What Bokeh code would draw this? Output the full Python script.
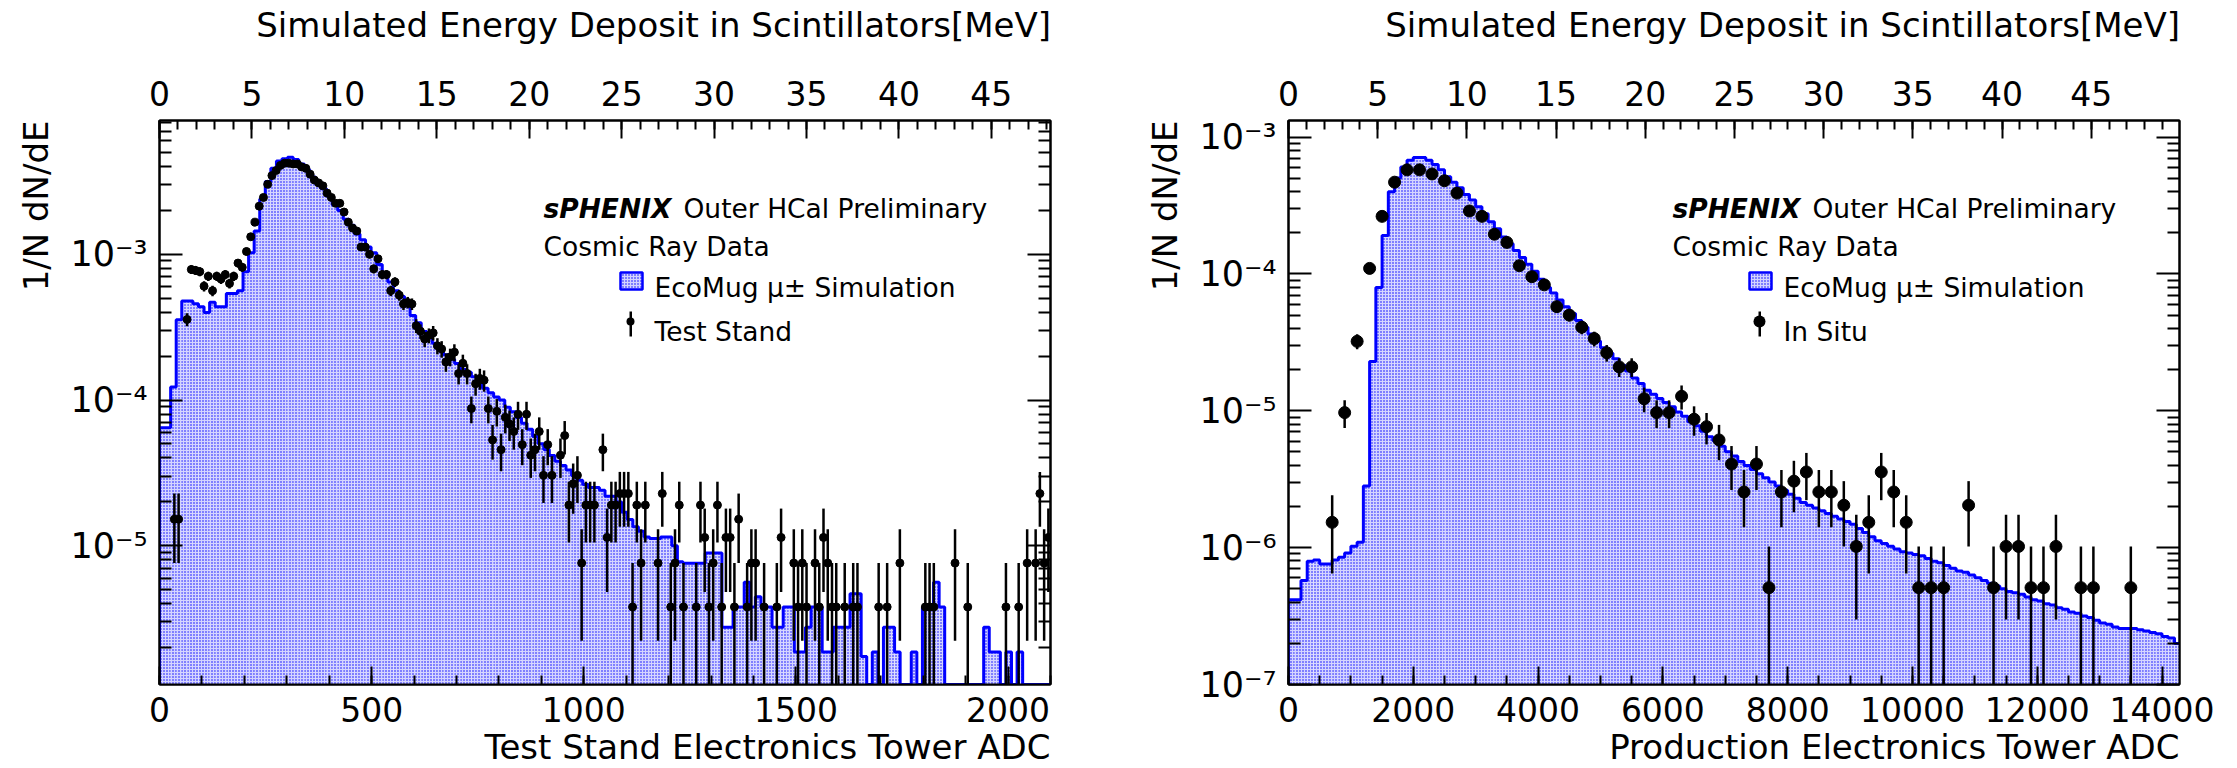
import math
from bokeh.plotting import figure
from bokeh.layouts import row
from bokeh.models import (Range1d, LinearAxis, LogAxis, FixedTicker, SingleIntervalTicker,
                          CustomJSTickFormatter, Label, BoxAnnotation, Title)
from bokeh.embed import file_html
from bokeh.resources import INLINE

FONT = "DejaVu Sans"
BLUE = "#0000ff"
TOP_TITLE = "Simulated Energy Deposit in Scintillators[MeV]"
Y_TITLE = "1/N dN/dE"

# ---------------- left panel: test stand electronics ----------------
TS_X_RANGE = (0, 2100)
TS_MEV_RANGE = (0, 48.2)
TS_Y_RANGE = (1.116e-6, 8.28e-3)
TS_SIM_BIN = 2100 / 160
# log10 of simulated 1/N dN/dE per bin (None = empty bin)
TS_SIM_LOG10 = [-4.19, -4.19, -3.91, -3.45, -3.32, -3.32, -3.34, -3.36, -3.40, -3.33,
                -3.36, -3.36, -3.27, -3.27, -3.25, -3.12, -2.99, -2.84, -2.62, -2.50,
                -2.41, -2.36, -2.345, -2.335, -2.35, -2.38, -2.42, -2.47, -2.51, -2.55,
                -2.60, -2.66, -2.70, -2.76, -2.80, -2.86, -2.90, -2.95, -2.99, -3.07,
                -3.14, -3.19, -3.25, -3.29, -3.33, -3.42, -3.47, -3.53, -3.57, -3.61,
                -3.66, -3.69, -3.72, -3.75, -3.79, -3.81, -3.84, -3.87, -3.92, -3.95,
                -3.98, -4.00, -4.05, -4.08, -4.12, -4.16, -4.20, -4.25, -4.30, -4.34,
                -4.38, -4.42, -4.45, -4.48, -4.52, -4.55, -4.58, -4.60, -4.60, -4.62,
                -4.66, -4.66, -4.70, -4.77, -4.82, -4.87, -4.90, -4.94, -4.95, -4.95,
                -4.94, -4.94, -5.00, -5.11, -5.12, -5.12, -5.12, -5.12, -5.05, -5.05,
                -5.05, -5.56, -5.56, -5.42, -5.42, -5.25, -5.42, -5.35, -5.42, -5.42,
                -5.56, -5.56, -5.42, -5.42, -5.73, -5.73, -5.56, -5.42, -5.42, -5.73,
                -5.73, -5.56, -5.56, -5.56, -5.33, -5.33, -5.76, None, -5.73, None,
                -5.56, -5.56, -5.73, None, None, -5.73, None, -5.42, -5.42, -5.25,
                -5.42, None, None, None, None, None, None, None, -5.56, -5.73,
                -5.73, None, -5.73, None, -5.73, None, None, None, None, None]
TS_ADC = [35, 45, 65, 75, 85, 95, 105, 115, 125, 135, 145, 155, 165, 175, 185, 195, 205, 215,
          225, 235, 245, 255, 265, 275, 285, 295, 305, 315, 325, 335, 345, 355, 365, 375, 385,
          395, 405, 415, 425, 435, 445, 455, 465, 475, 485, 495, 505, 515, 525, 535, 545, 555,
          565, 575, 585, 595, 605, 615, 625, 635, 645, 655, 665, 675, 685, 695, 705, 715, 725,
          735, 745, 755, 765, 775, 785, 795, 805, 815, 825, 835, 845, 855, 865, 875, 885, 895,
          905, 915, 925, 945, 955, 965, 975, 985, 995, 1005, 1015, 1025, 1045, 1055, 1065,
          1075, 1085, 1095, 1105, 1115, 1125, 1135, 1145, 1175, 1185, 1205, 1215, 1225, 1235,
          1265, 1275, 1285, 1295, 1305, 1315, 1325, 1335, 1345, 1355, 1365, 1385, 1395, 1405,
          1425, 1455, 1465, 1495, 1505, 1515, 1525, 1545, 1555, 1565, 1575, 1585, 1595, 1615,
          1635, 1645, 1695, 1715, 1745, 1805, 1815, 1825, 1875, 1905, 1995, 2025, 2045, 2065,
          2075, 2085, 2095]
TS_COUNTS = [4, 4, 94, 207, 204, 200, 159, 186, 148, 186, 178, 191, 166, 186, 229, 214, 275, 347,
             437, 563, 646, 795, 912, 989, 1072, 1110, 1110, 1097, 1097, 1047, 1023, 933, 851, 813, 776,
             692, 646, 589, 589, 513, 437, 398, 380, 295, 295, 263, 209, 245, 191, 191, 148, 170,
             138, 120, 123, 120, 85, 78, 69, 73, 76, 62, 59, 48, 52, 56, 40, 47, 40,
             23, 34, 37, 36, 23, 14, 22, 12, 20, 18, 16, 21, 13, 21, 11, 12, 16,
             8, 13, 8, 11, 15, 5, 7, 8, 2, 5, 5, 5, 12, 3, 5,
             5, 6, 6, 6, 1, 5, 2, 5, 2, 6, 1, 2, 5, 1,
             1, 5, 3, 1, 2, 5, 1, 3, 3, 1, 4, 1, 2, 2,
             1, 1, 3, 2, 1, 2, 1, 2, 1, 3, 2, 1, 1, 1,
             1, 1, 1, 1, 2, 1, 1, 1, 2, 1, 1, 1, 2, 2,
             6, 2, 3]
TS_UNIT = 3.8e-6

# ---------------- right panel: production electronics (in situ) ----------------
IS_X_RANGE = (0, 14280)
IS_MEV_RANGE = (0, 49.95)
IS_Y_RANGE = (1e-7, 1.32e-3)
IS_SIM_BIN = 100
IS_SIM_LOG10 = [-6.38, -6.38, -6.24, -6.10, -6.09, -6.12, -6.12, -6.09, -6.07, -6.04,
                -5.99, -5.96, -5.55, -4.64, -4.10, -3.72, -3.40, -3.30, -3.22, -3.17,
                -3.15, -3.15, -3.17, -3.20, -3.24, -3.29, -3.33, -3.37, -3.42, -3.46,
                -3.51, -3.56, -3.62, -3.67, -3.73, -3.78, -3.83, -3.88, -3.93, -3.98,
                -4.04, -4.10, -4.14, -4.19, -4.24, -4.29, -4.34, -4.39, -4.44, -4.49,
                -4.54, -4.58, -4.62, -4.67, -4.71, -4.76, -4.80, -4.85, -4.88, -4.91,
                -4.94, -4.97, -5.01, -5.04, -5.08, -5.11, -5.15, -5.19, -5.22, -5.26,
                -5.30, -5.33, -5.37, -5.40, -5.43, -5.46, -5.49, -5.52, -5.55, -5.58,
                -5.61, -5.64, -5.67, -5.69, -5.71, -5.73, -5.75, -5.77, -5.79, -5.81,
                -5.83, -5.86, -5.89, -5.92, -5.95, -5.97, -5.99, -6.01, -6.03, -6.04,
                -6.05, -6.06, -6.08, -6.10, -6.11, -6.13, -6.15, -6.17, -6.18, -6.20,
                -6.22, -6.24, -6.26, -6.28, -6.30, -6.32, -6.33, -6.34, -6.36, -6.38,
                -6.39, -6.41, -6.42, -6.44, -6.45, -6.47, -6.48, -6.50, -6.51, -6.53,
                -6.55, -6.56, -6.58, -6.59, -6.59, -6.59, -6.60, -6.61, -6.62, -6.63,
                -6.65, -6.66, -6.70]
IS_ADC = [700, 900, 1100, 1300, 1500, 1700, 1900, 2100, 2300, 2500, 2700, 2900, 3100, 3300,
          3500, 3700, 3900, 4100, 4300, 4500, 4700, 4900, 5100, 5300, 5500, 5700, 5900, 6100,
          6300, 6500, 6700, 6900, 7100, 7300, 7500, 7700, 7900, 8100, 8300, 8500, 8700, 8900,
          9100, 9300, 9500, 9700, 9900, 10100, 10300, 10500, 10900, 11300, 11500, 11700,
          11900, 12100, 12300, 12700, 12900, 13500]
IS_COUNTS = [3, 19, 63, 215, 516, 917, 1128, 1128, 1053, 939, 763, 565, 516, 382,
             333, 225, 187, 163, 113, 98, 80, 66, 52, 41, 41, 24, 19, 19,
             25, 17, 15, 12, 8, 5, 8, 1, 5, 6, 7, 5, 5, 4,
             2, 3, 7, 5, 3, 1, 1, 1, 4, 1, 2, 2,
             1, 1, 2, 1, 1, 1]
IS_UNIT = 5.1e-7

SUP = "{'-':'\u207b','0':'\u2070','1':'\u00b9','2':'\u00b2','3':'\u00b3','4':'\u2074','5':'\u2075','6':'\u2076','7':'\u2077','8':'\u2078','9':'\u2079'}"
LOG_CODE = ("const e = Math.round(Math.log10(tick)); const m = " + SUP +
            "; let s = ''; for (const c of String(e)) { s += m[c]; } return '10' + s;")


def log_ticker():
    decades = [10.0 ** e for e in range(-8, -1)]
    minors = [m * 10.0 ** e for e in range(-8, -1) for m in range(2, 10)]
    return FixedTicker(ticks=decades, minor_ticks=minors)


def style_axis(ax, major_len, minor_len, label_px, label_standoff):
    ax.axis_line_color = "black"
    ax.axis_line_width = 2
    ax.major_tick_in = major_len
    ax.major_tick_out = 0
    ax.minor_tick_in = minor_len
    ax.minor_tick_out = 0
    ax.major_tick_line_width = 2
    ax.minor_tick_line_width = 2
    ax.major_tick_line_color = "black"
    ax.minor_tick_line_color = "black"
    ax.major_label_text_font = FONT
    ax.major_label_text_font_size = f"{label_px}px"
    ax.major_label_text_color = "black"
    ax.major_label_standoff = label_standoff


def add_text(p, x, y, s, size, style="normal"):
    p.add_layout(Label(x=x, y=y, x_units="screen", y_units="screen", text=s,
                       text_font=FONT, text_font_size=f"{size}px", text_font_style=style,
                       text_color="black", text_align="left", text_baseline="alphabetic"))


def add_title(p, text, side, standoff):
    p.add_layout(Title(text=text, align="right", text_font=FONT, text_font_size="34px",
                       text_font_style="normal", text_color="black", standoff=standoff,
                       background_fill_color=None), side)


def box(p, l, r, b, t, **kw):
    p.add_layout(BoxAnnotation(left=l, right=r, bottom=b, top=t, left_units="screen",
                               right_units="screen", bottom_units="screen", top_units="screen",
                               **kw))


HATCH = dict(hatch_pattern="dot", hatch_color=BLUE, hatch_scale=3, hatch_weight=2)
FILL = "#d4d4ff"


def make_panel(width, bl, br, bb, x_range, mev_range, y_range, sim_bin, sim_log10,
               adc, counts, unit, marker_d, x_title, x_ticker, data_name):
    ymin = y_range[0]
    p = figure(width=width, height=768, x_range=Range1d(*x_range), y_range=Range1d(*y_range),
               y_axis_type="log", output_backend="svg", toolbar_location=None,
               min_border_left=bl, min_border_right=br, min_border_top=120,
               min_border_bottom=bb)
    p.grid.visible = False
    p.outline_line_color = "black"
    p.outline_line_width = 2
    p.background_fill_color = "white"
    p.border_fill_color = "white"

    # simulation histogram (hatched fill + blue step outline)
    lefts, rights, tops = [], [], []
    xs, ys = [0.0], [ymin]
    for i, lv in enumerate(sim_log10):
        x0, x1 = i * sim_bin, (i + 1) * sim_bin
        v = ymin if lv is None else max(10.0 ** lv, ymin)
        if lv is not None:
            lefts.append(x0)
            rights.append(x1)
            tops.append(v)
        xs += [x0, x1]
        ys += [v, v]
    xs.append(len(sim_log10) * sim_bin)
    ys.append(ymin)
    p.quad(left=lefts, right=rights, top=tops, bottom=ymin, fill_color=FILL,
           line_color=None, **HATCH)
    p.line(xs, ys, line_color=BLUE, line_width=3)

    # data points with Poisson error bars
    vals = [c * unit for c in counts]
    errs = [math.sqrt(c) * unit for c in counts]
    lo = [max(v - e, ymin * 1e-2) for v, e in zip(vals, errs)]
    hi = [v + e for v, e in zip(vals, errs)]
    p.segment(x0=adc, y0=lo, x1=adc, y1=hi, line_color="black", line_width=2.5)
    p.scatter(x=adc, y=vals, size=marker_d, fill_color="black", line_color="black")

    # axes
    xa = p.xaxis[0]
    xa.ticker = x_ticker
    style_axis(xa, 18, 9, 33, 12)

    ya = p.yaxis[0]
    ya.ticker = log_ticker()
    ya.formatter = CustomJSTickFormatter(code=LOG_CODE)
    style_axis(ya, 23, 12, 35, 12)

    # top MeV axis; its title is pushed to the right end of the frame (ROOT style)
    p.extra_x_ranges = {"mev": Range1d(*mev_range)}
    top = LinearAxis(x_range_name="mev", ticker=SingleIntervalTicker(interval=5, num_minor_ticks=5),
                     axis_label="\u00a0" * 9 + TOP_TITLE)
    style_axis(top, 18, 9, 33, 15)
    top.axis_label_text_font = FONT
    top.axis_label_text_font_size = "34px"
    top.axis_label_text_font_style = "normal"
    top.axis_label_text_color = "black"
    top.axis_label_standoff = 33
    p.add_layout(top, "above")

    right = LogAxis(ticker=log_ticker(), formatter=CustomJSTickFormatter(code="return '';"))
    style_axis(right, 23, 12, 1, 0)
    p.add_layout(right, "right")

    # axis titles aligned to the end of each axis
    add_title(p, x_title, "below", 0)
    add_title(p, Y_TITLE, "left", 23)

    # texts
    add_text(p, 384, 476, "sPHENIX", 26.5, "bold italic")
    add_text(p, 524, 476, "Outer HCal Preliminary", 26.5)
    add_text(p, 384, 438, "Cosmic Ray Data", 26.5)
    # legend
    box(p, 461, 483, 395, 412, fill_color=FILL, fill_alpha=1.0, line_color=BLUE,
        line_alpha=1.0, line_width=2.5, **HATCH)
    add_text(p, 495, 397, "EcoMug \u03bc\u00b1 Simulation", 26.5)
    r = int(marker_d // 2)
    box(p, 470, 472.5, 348, 373, fill_color="black", fill_alpha=1.0, line_color=None)
    box(p, 471 - r, 471 + r, 363 - r, 363 + r, fill_color="black", fill_alpha=1.0,
        line_color=None, border_radius=r)
    add_text(p, 495, 353, data_name, 26.5)
    return p


p_left = make_panel(1118, 159, 68, 83, TS_X_RANGE, TS_MEV_RANGE, TS_Y_RANGE, TS_SIM_BIN,
                    TS_SIM_LOG10, TS_ADC, TS_COUNTS, TS_UNIT, 8,
                    "Test Stand Electronics Tower ADC",
                    SingleIntervalTicker(interval=500, num_minor_ticks=5), "Test Stand")
p_right = make_panel(1119, 170, 58, 84, IS_X_RANGE, IS_MEV_RANGE, IS_Y_RANGE, IS_SIM_BIN,
                     IS_SIM_LOG10, IS_ADC, IS_COUNTS, IS_UNIT, 12,
                     "Production Electronics Tower ADC",
                     SingleIntervalTicker(interval=2000, num_minor_ticks=4), "In Situ")

layout = row(p_left, p_right)
with open("out.html", "w", encoding="utf-8") as f:
    f.write(file_html(layout, INLINE, "sPHENIX Outer HCal"))
